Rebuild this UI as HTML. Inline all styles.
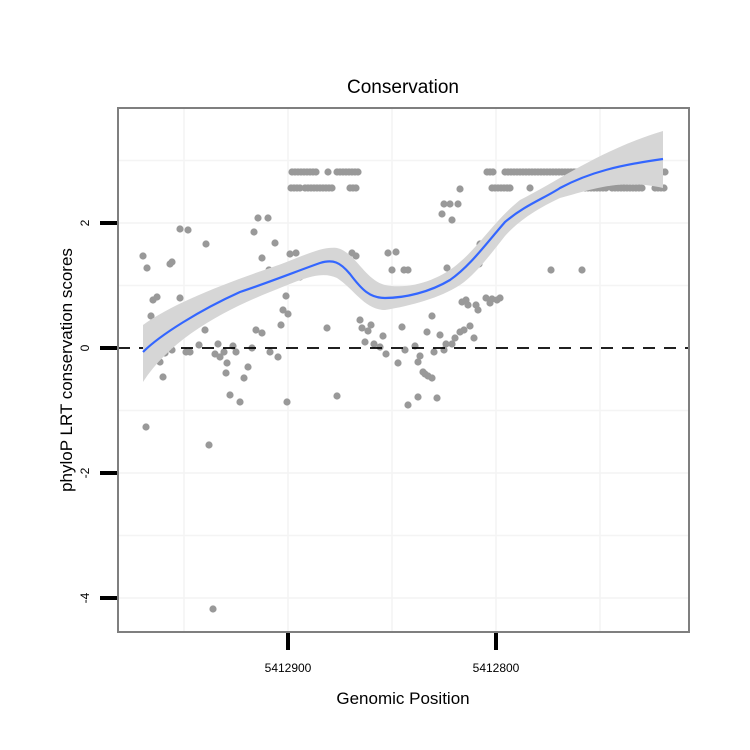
<!DOCTYPE html>
<html><head><style>body{margin:0;background:#fff}svg{display:block}text{font-family:"Liberation Sans",sans-serif}</style></head>
<body>
<svg id="s" width="750" height="750" xmlns="http://www.w3.org/2000/svg">
<rect x="118" y="108" width="571" height="524" fill="#fff"/>
<g stroke="#f4f4f4" stroke-width="1.5">
<line x1="118" x2="689" y1="160.5" y2="160.5"/><line x1="118" x2="689" y1="223" y2="223"/>
<line x1="118" x2="689" y1="285.5" y2="285.5"/><line x1="118" x2="689" y1="410.5" y2="410.5"/>
<line x1="118" x2="689" y1="473" y2="473"/><line x1="118" x2="689" y1="535.5" y2="535.5"/>
<line x1="118" x2="689" y1="598" y2="598"/>
<line y1="108" y2="632" x1="184" x2="184"/><line y1="108" y2="632" x1="288" x2="288"/>
<line y1="108" y2="632" x1="392" x2="392"/><line y1="108" y2="632" x1="496" x2="496"/>
<line y1="108" y2="632" x1="600" x2="600"/>
</g>
<g id="pts" fill="#999"></g>
<line x1="118" x2="689" y1="348" y2="348" stroke="#000" stroke-width="1.8" stroke-dasharray="12,9"/>
<path d="M143,325 C170,305 220,285 270,268 C300,258 320,246 337,248 C355,252 365,280 385,285 C410,290 440,280 460,262 C480,245 495,220 520,200 C560,180 600,150 663,131 L663,188 C620,178 590,190 560,198 C530,212 515,225 505,236 C490,255 475,275 460,285 C440,298 410,306 385,310 C365,310 355,290 337,278 C320,270 300,280 270,292 C220,312 170,340 143,382 Z" fill="#d6d6d6"/>
<path d="M143,352 C160,335 200,310 240,292 C270,282 300,270 320,263 C333,259 340,262 350,274 C362,290 370,298 385,298 C405,298 430,292 450,280 C470,266 485,245 505,222 C525,205 545,198 560,188 C590,172 620,165 663,159" fill="none" stroke="#3366ff" stroke-width="2.2"/>
<rect x="118" y="108" width="571" height="524" fill="none" stroke="#7f7f7f" stroke-width="2"/>
<g stroke="#000" stroke-width="4">
<line x1="100" x2="117" y1="223" y2="223"/><line x1="100" x2="117" y1="348" y2="348"/>
<line x1="100" x2="117" y1="473" y2="473"/><line x1="100" x2="117" y1="598" y2="598"/>
<line x1="288" x2="288" y1="633" y2="650"/><line x1="496" x2="496" y1="633" y2="650"/>
</g>
<g font-size="12" fill="#000" text-anchor="middle">
<text transform="translate(89,223) rotate(-90)">2</text>
<text transform="translate(89,348) rotate(-90)">0</text>
<text transform="translate(89,473) rotate(-90)">-2</text>
<text transform="translate(89,598) rotate(-90)">-4</text>
<text x="288" y="672">5412900</text><text x="496" y="672">5412800</text>
</g>
<text x="403" y="93" font-size="19" text-anchor="middle">Conservation</text>
<text x="403" y="704" font-size="17" text-anchor="middle">Genomic Position</text>
<text transform="translate(72,370) rotate(-90)" font-size="17" text-anchor="middle">phyloP LRT conservation scores</text>
</svg>
<script>
var P=[[143,256],[147,268],[151,316],[153,300],[157,297],[146,427],[163,377],[160,362],[162,348],[165,353],[167,318],[170,264],[172,262],[180,229],[188,230],[185,308],[180,298],[176,340],[172,350],[174,330],[186,352],[190,352],[196,322],[201,306],[199,345],[205,330],[206,244],[209,445],[213,609],[215,354],[218,344],[220,357],[224,352],[227,363],[226,373],[230,395],[233,346],[236,352],[240,402],[244,378],[248,367],[252,348],[256,330],[254,232],[258,218],[268,218],[262,333],[270,352],[275,243],[278,357],[281,325],[283,310],[286,296],[288,314],[287,402],[290,254],[269,270],[262,258],[296,253],[300,277],[304,275],[315,270],[320,264],[322,256],[327,328],[337,396],[343,258],[352,253],[356,256],[360,320],[362,328],[365,342],[368,331],[371,325],[374,344],[380,347],[383,336],[386,354],[388,253],[392,270],[396,252],[398,363],[402,327],[405,350],[404,270],[408,270],[415,346],[418,362],[420,356],[423,372],[425,374],[428,376],[432,378],[434,352],[408,405],[418,397],[437,398],[440,335],[444,350],[446,344],[452,344],[455,338],[460,332],[464,330],[470,326],[474,338],[480,244],[442,214],[444,204],[450,204],[458,204],[460,189],[452,220],[479,264],[459,275],[447,268],[456,278],[476,305],[478,310],[466,300],[468,305],[462,302],[486,298],[490,303],[492,299],[497,300],[500,298],[551,270],[582,270],[430,290],[427,332],[432,316]];
var g=document.getElementById('pts'),h='';
P.forEach(function(p){h+='<circle cx="'+p[0]+'" cy="'+p[1]+'" r="3.6"/>'});
function row(a,b,y,st){for(var x=a;x<=b;x+=st)h+='<circle cx="'+x+'" cy="'+y+'" r="3.6"/>'}
row(292,318,172,3);row(328,328,172,3);row(337,360,172,3);
row(291,302,188,3);row(305,333,188,3);row(350,357,188,3);
row(487,495,172,3);row(505,618,172,3);row(626,665,172,3);
row(492,510,188,3);row(530,530,188,3);row(552,608,188,3);row(612,644,188,3);row(655,665,188,3);
g.innerHTML=h;
</script>
</body></html>
